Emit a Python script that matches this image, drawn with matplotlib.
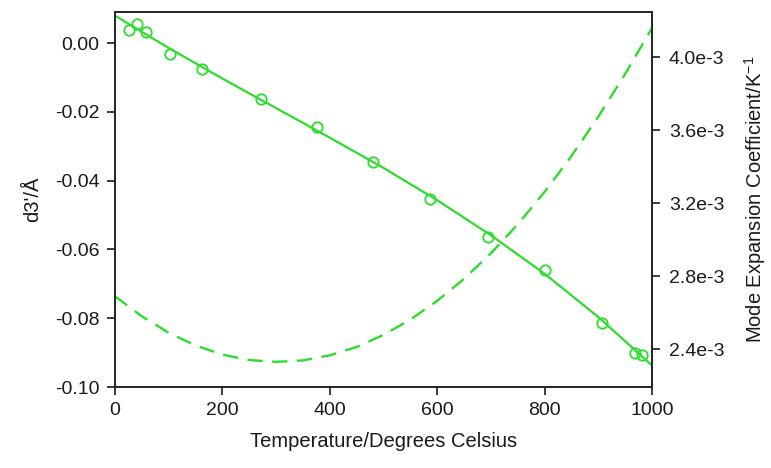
import matplotlib
matplotlib.use("Agg")
import matplotlib.pyplot as plt

plt.rcParams['font.family'] = ['Liberation Sans', 'DejaVu Sans']
plt.rcParams['axes.unicode_minus'] = False

# measured points (temperature, d3')
temp_pts = [27, 42, 58, 102, 163, 271, 376, 481, 587, 694, 801, 906, 968, 981]
d3_pts = [0.0038, 0.0057, 0.0031, -0.0033, -0.0076, -0.0163, -0.0245, -0.0347,
          -0.0454, -0.0563, -0.0660, -0.0815, -0.0902, -0.0907]

# fitted d3' curve
temp_fit = [0, 100, 200, 300, 400, 500, 600, 700, 800, 900, 1000]
d3_fit = [0.0080, -0.0014, -0.0103, -0.0189, -0.0275, -0.0363, -0.0457,
          -0.0559, -0.0671, -0.0797, -0.0938]

# mode expansion coefficient curve
temp_alpha = [0, 50, 100, 150, 200, 250, 300, 350, 400, 450, 500, 550, 600,
              650, 700, 750, 800, 850, 900, 950, 1000]
alpha = [2.690e-3, 2.580e-3, 2.490e-3, 2.420e-3, 2.370e-3, 2.340e-3, 2.330e-3,
         2.338e-3, 2.366e-3, 2.412e-3, 2.478e-3, 2.562e-3, 2.665e-3, 2.786e-3,
         2.926e-3, 3.085e-3, 3.263e-3, 3.460e-3, 3.676e-3, 3.910e-3, 4.163e-3]

x_ticks = [0, 200, 400, 600, 800, 1000]
left_ticks = [0.00, -0.02, -0.04, -0.06, -0.08, -0.10]
right_ticks = [2.4e-3, 2.8e-3, 3.2e-3, 3.6e-3, 4.0e-3]
right_labels = ['2.4e-3', '2.8e-3', '3.2e-3', '3.6e-3', '4.0e-3']

green = '#2EDC2E'
txt = '#1a1a1a'

fig = plt.figure(figsize=(7.71, 4.68), dpi=100)
ax = fig.add_axes([0.149, 0.173, 0.697, 0.801])
ax2 = ax.twinx()

ax.plot(temp_fit, d3_fit, color=green, lw=1.6, zorder=3)
ax.plot(temp_pts, d3_pts, linestyle='none', marker='o', ms=7.5, mfc='none',
        mec=green, mew=1.3, zorder=4)
ax2.plot(temp_alpha, alpha, color=green, lw=1.7, linestyle=(0, (6.5, 4)))

ax.set_xlim(0, 1000)
ax.set_ylim(-0.10, 0.0090)
ax2.set_ylim(2.192e-3, 4.247e-3)

ax.set_xticks(x_ticks)
ax.set_xticklabels([str(v) for v in x_ticks])
ax.set_yticks(left_ticks)
ax.set_yticklabels(['%.2f' % v for v in left_ticks])
ax2.set_yticks(right_ticks)
ax2.set_yticklabels(right_labels)

for a in (ax, ax2):
    for s in a.spines.values():
        s.set_linewidth(1.2)
        s.set_color('#222222')
    a.tick_params(direction='out', length=6, width=1.2, labelsize=14, colors=txt)
ax.tick_params(axis='both', pad=5)
ax2.tick_params(axis='y', pad=6)

ax.set_xlabel('Temperature/Degrees Celsius', fontsize=14.5, labelpad=9, color=txt)
ax.set_ylabel("d3'/Å", fontsize=14.5, labelpad=9, color=txt)
ax2.set_ylabel('Mode Expansion Coefficient/K$^{\\mathregular{-1}}$', fontsize=14.5,
               labelpad=13, color=txt)

fig.savefig('out.png', dpi=100)
